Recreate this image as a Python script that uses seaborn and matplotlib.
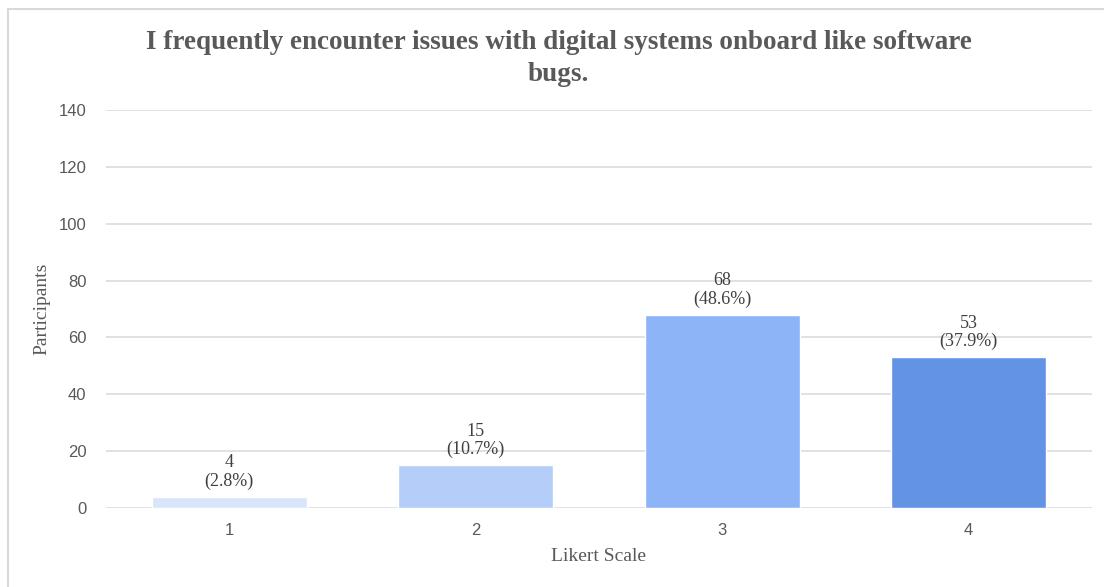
import matplotlib
matplotlib.use("Agg")
import matplotlib.pyplot as plt
import seaborn as sns
import pandas as pd
from matplotlib.patches import Rectangle

# Survey responses per Likert level
categories = ["1", "2", "3", "4"]
counts = [4, 15, 68, 53]
percents = [2.8, 10.7, 48.6, 37.9]
bar_colors = ["#D8E5FB", "#B4CEF9", "#8EB4F8", "#6393E5"]
y_ticks = [0, 20, 40, 60, 80, 100, 120, 140]

df = pd.DataFrame({"level": categories, "count": counts})

sns.set_theme(style="white")
plt.rcParams["font.family"] = ["Liberation Sans", "DejaVu Sans"]

fig = plt.figure(figsize=(11.04, 5.87), dpi=100)
ax = fig.add_axes([0.096, 0.1346, 0.893, 0.678])

# light frame around the chart area
fig.patches.append(Rectangle((8 / 1104, -0.01), 1.1, (587 - 9) / 587 + 0.01,
                             transform=fig.transFigure, fill=False,
                             edgecolor="#D9D9D9", linewidth=1.5, zorder=0))

sns.barplot(data=df, x="level", y="count", hue="level", palette=bar_colors,
            order=categories, hue_order=categories, width=0.63,
            legend=False, ax=ax, saturation=1, zorder=2)

ax.set_ylim(0, 140)
ax.set_xlim(-0.5, 3.5)
ax.set_yticks(y_ticks)
ax.yaxis.grid(True, color="#D9D9D9", linewidth=1.1, zorder=0)
ax.set_axisbelow(True)
for s in ax.spines.values():
    s.set_visible(False)

ax.tick_params(axis="both", length=0, labelsize=12, colors="#595959")
ax.tick_params(axis="y", pad=14)
ax.tick_params(axis="x", pad=11)

serif = ["Liberation Serif", "DejaVu Serif"]
ax.set_ylabel("Participants", family=serif, fontsize=14, color="#595959", labelpad=6)
ax.set_xlabel("Likert Scale", family=serif, fontsize=14, color="#595959", labelpad=7)

for i, (c, p) in enumerate(zip(counts, percents)):
    ax.annotate(f"{c}\n({p}%)", xy=(i, c), xytext=(0, 5), textcoords="offset points",
                ha="center", va="bottom", family=serif, fontsize=13,
                color="#404040", linespacing=1.1, zorder=3)

fig.text(0.506, 0.900, "I frequently encounter issues with digital systems onboard like software\nbugs.",
         ha="center", va="center", family=serif, fontsize=19.5, fontweight="bold",
         color="#595959", linespacing=1.35)

fig.savefig("out.png", dpi=100)
